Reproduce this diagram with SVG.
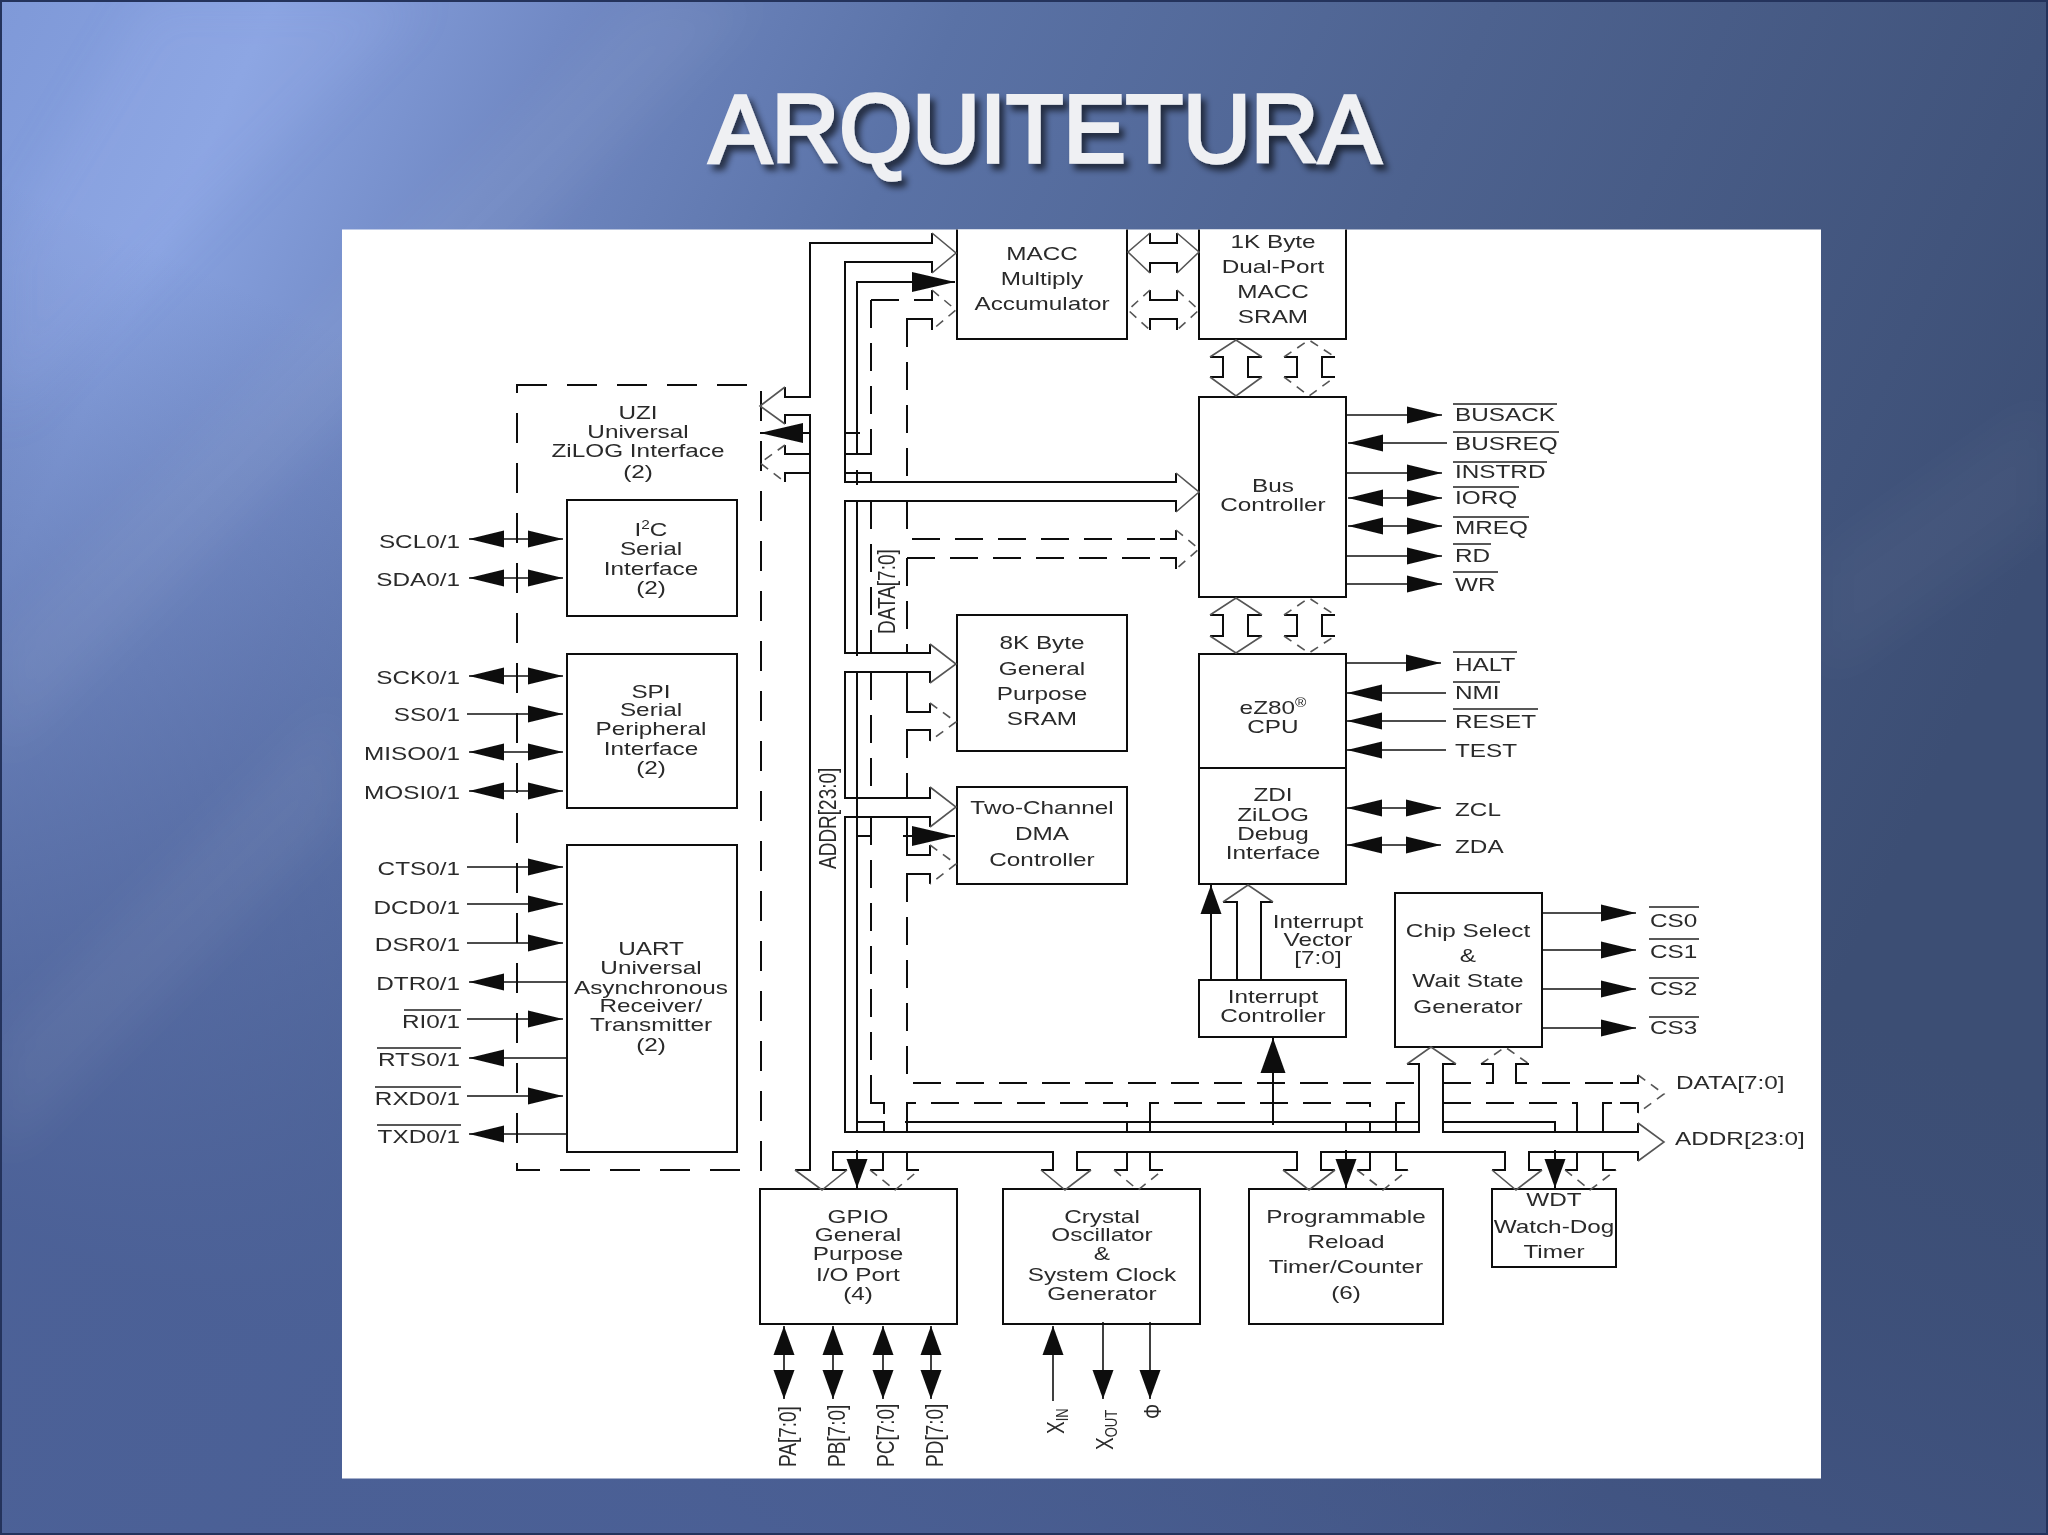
<svg xmlns="http://www.w3.org/2000/svg" width="2048" height="1535" viewBox="0 0 2048 1535">
<style>
.s{fill:none;stroke:#111;stroke-width:2}
.d{fill:none;stroke:#111;stroke-width:2;stroke-dasharray:28 15}
.hs{fill:none;stroke:#555;stroke-width:1.6}
.hd{fill:none;stroke:#555;stroke-width:1.6;stroke-dasharray:9 7}
.box{fill:#fff;stroke:#111;stroke-width:2}
.sig{fill:none;stroke:#111;stroke-width:1.6}
.bar{fill:none;stroke:#222;stroke-width:1.6}
text{font-family:"Liberation Sans",Arial,sans-serif;font-size:19px;fill:#2a2a2a}
.c,.l,.r{transform-box:fill-box;transform:translateY(-1px) scaleX(1.28)}
.c{text-anchor:middle;transform-origin:50% 50%}
.l{text-anchor:start;transform-origin:0 50%}
.r{text-anchor:end;transform-origin:100% 50%}
.title{font-size:97px;fill:#eff0f3;stroke:#eff0f3;stroke-width:3.5}
</style>
<defs>
<linearGradient id="bg" x1="0" y1="0" x2="1" y2="0.35">
<stop offset="0" stop-color="#7f99d8"/><stop offset="0.12" stop-color="#88a2e0"/><stop offset="0.25" stop-color="#7189c4"/><stop offset="0.42" stop-color="#5a72a6"/><stop offset="0.65" stop-color="#4d628f"/><stop offset="1" stop-color="#3c4e74"/>
</linearGradient>
<linearGradient id="low" x1="0.6" y1="0" x2="0" y2="1">
<stop offset="0.35" stop-color="#3f5285" stop-opacity="0"/><stop offset="0.85" stop-color="#4a5f95" stop-opacity="0.95"/>
</linearGradient>
<filter id="soft" x="-2%" y="-2%" width="104%" height="104%"><feGaussianBlur stdDeviation="0.55"/></filter>
<filter id="band" x="-20%" y="-20%" width="140%" height="140%"><feGaussianBlur stdDeviation="22"/></filter>
<filter id="ts" x="-5%" y="-20%" width="110%" height="150%"><feGaussianBlur in="SourceAlpha" stdDeviation="3"/><feOffset dx="5" dy="6"/><feComponentTransfer><feFuncA type="linear" slope="0.6"/></feComponentTransfer><feMerge><feMergeNode/><feMergeNode in="SourceGraphic"/></feMerge></filter>
<marker id="a" markerUnits="userSpaceOnUse" markerWidth="36" markerHeight="20" refX="35" refY="10" orient="auto-start-reverse"><path d="M0 1.5L35 10L0 18.5z" fill="#111"/></marker>
<marker id="b" markerUnits="userSpaceOnUse" markerWidth="30" markerHeight="24" refX="29" refY="12" orient="auto-start-reverse"><path d="M0 1.5L29 12L0 22.5z" fill="#111"/></marker>
<marker id="e" markerUnits="userSpaceOnUse" markerWidth="36" markerHeight="28" refX="35" refY="14" orient="auto"><path d="M0 1.5L35 14L0 26.5z" fill="#111"/></marker>
<marker id="m" markerUnits="userSpaceOnUse" markerWidth="44" markerHeight="22" refX="43" refY="11" orient="auto-start-reverse"><path d="M0 1L43 11L0 21z" fill="#111"/></marker>
</defs>

<g id="background">
<rect width="2048" height="1535" fill="url(#bg)"/>
<rect width="2048" height="1535" fill="url(#low)"/>
<g filter="url(#band)">
<path d="M150 0H420L0 420V250z" fill="#a6bdf0" opacity="0.16"/>
<path d="M0 640L640 0H760L0 760z" fill="#ffffff" opacity="0.05"/>
<path d="M0 1040L340 700V820L0 1160z" fill="#ffffff" opacity="0.05"/>
<path d="M1822 560L2048 400V520L1822 680z" fill="#ffffff" opacity="0.03"/>
</g>
<rect x="1" y="1" width="2046" height="1533" fill="none" stroke="#24335c" stroke-width="2"/>
</g>
<text id="title" class="title" x="709" y="162" textLength="672" lengthAdjust="spacingAndGlyphs" filter="url(#ts)">ARQUITETURA</text>
<rect id="panel" x="342" y="229.500" width="1479" height="1249" fill="#fff"/>

<g id="diagram" filter="url(#soft)">
<g id="nodes">
<g id="uzi"><rect x="517" y="385" width="244" height="785" fill="none" stroke="#111" stroke-width="2" stroke-dasharray="30 20"/>
<text class="c" x="638" y="420">UZI</text><text class="c" x="638" y="439">Universal</text><text class="c" x="638" y="458">ZiLOG Interface</text><text class="c" x="638" y="479">(2)</text></g>
<g id="i2c"><rect class="box" x="567" y="500" width="170" height="116"/>
<text class="c" x="651" y="537">I<tspan font-size="12" dy="-7">2</tspan><tspan dy="7">C</tspan></text><text class="c" x="651" y="556">Serial</text><text class="c" x="651" y="576">Interface</text><text class="c" x="651" y="595">(2)</text></g>
<g id="spi"><rect class="box" x="567" y="654" width="170" height="154"/>
<text class="c" x="651" y="699">SPI</text><text class="c" x="651" y="717">Serial</text><text class="c" x="651" y="736">Peripheral</text><text class="c" x="651" y="756">Interface</text><text class="c" x="651" y="775">(2)</text></g>
<g id="uart"><rect class="box" x="567" y="845" width="170" height="307"/>
<text class="c" x="651" y="956">UART</text><text class="c" x="651" y="975">Universal</text><text class="c" x="651" y="995">Asynchronous</text><text class="c" x="651" y="1013">Receiver/</text><text class="c" x="651" y="1032">Transmitter</text><text class="c" x="651" y="1052">(2)</text></g>
<g id="macc"><path class="box" d="M957 229.500V339H1127V229.500"/>
<text class="c" x="1042" y="261">MACC</text><text class="c" x="1042" y="286">Multiply</text><text class="c" x="1042" y="311">Accumulator</text></g>
<g id="sram1k"><path class="box" d="M1199 229.500V339H1346V229.500"/>
<text class="c" x="1273" y="249">1K Byte</text><text class="c" x="1273" y="274">Dual-Port</text><text class="c" x="1273" y="299">MACC</text><text class="c" x="1273" y="324">SRAM</text></g>
<g id="bus"><rect class="box" x="1199" y="397" width="147" height="200"/>
<text class="c" x="1273" y="493">Bus</text><text class="c" x="1273" y="512">Controller</text></g>
<g id="sram8k"><rect class="box" x="957" y="615" width="170" height="136"/>
<text class="c" x="1042" y="650">8K Byte</text><text class="c" x="1042" y="676">General</text><text class="c" x="1042" y="701">Purpose</text><text class="c" x="1042" y="726">SRAM</text></g>
<g id="dma"><rect class="box" x="957" y="787" width="170" height="97"/>
<text class="c" x="1042" y="815">Two-Channel</text><text class="c" x="1042" y="841">DMA</text><text class="c" x="1042" y="867">Controller</text></g>
<g id="cpu"><rect class="box" x="1199" y="654" width="147" height="114"/>
<text class="c" x="1273" y="715">eZ80<tspan font-size="12" dy="-7">®</tspan></text><text class="c" x="1273" y="734">CPU</text></g>
<g id="zdi"><rect class="box" x="1199" y="768" width="147" height="116"/>
<text class="c" x="1273" y="802">ZDI</text><text class="c" x="1273" y="822">ZiLOG</text><text class="c" x="1273" y="841">Debug</text><text class="c" x="1273" y="860">Interface</text></g>
<g id="intc"><rect class="box" x="1199" y="980" width="147" height="57"/>
<text class="c" x="1273" y="1004">Interrupt</text><text class="c" x="1273" y="1023">Controller</text></g>
<g id="chipsel"><rect class="box" x="1395" y="893" width="147" height="154"/>
<text class="c" x="1468" y="938">Chip Select</text><text class="c" x="1468" y="963">&amp;</text><text class="c" x="1468" y="988">Wait State</text><text class="c" x="1468" y="1014">Generator</text></g>
<g id="gpio"><rect class="box" x="760" y="1189" width="197" height="135"/>
<text class="c" x="858" y="1224">GPIO</text><text class="c" x="858" y="1242">General</text><text class="c" x="858" y="1261">Purpose</text><text class="c" x="858" y="1282">I/O Port</text><text class="c" x="858" y="1301">(4)</text></g>
<g id="crystal"><rect class="box" x="1003" y="1189" width="197" height="135"/>
<text class="c" x="1102" y="1224">Crystal</text><text class="c" x="1102" y="1242">Oscillator</text><text class="c" x="1102" y="1261">&amp;</text><text class="c" x="1102" y="1282">System Clock</text><text class="c" x="1102" y="1301">Generator</text></g>
<g id="timer"><rect class="box" x="1249" y="1189" width="194" height="135"/>
<text class="c" x="1346" y="1224">Programmable</text><text class="c" x="1346" y="1249">Reload</text><text class="c" x="1346" y="1274">Timer/Counter</text><text class="c" x="1346" y="1300">(6)</text></g>
<g id="wdt"><rect class="box" x="1492" y="1189" width="124" height="78"/>
<text class="c" x="1554" y="1207">WDT</text><text class="c" x="1554" y="1234">Watch-Dog</text><text class="c" x="1554" y="1259">Timer</text></g>
</g>

<g id="connectors">
<path class="s" d="M785 387V397H810V243H932V233M785 424V415H810V1170H795M932 273V262H845V482H1176V473M1176 512V501H845V653H930V644M930 683V672H845V798H930V787M930 827V817H845V1132H1419V1064H1407M1456 1064H1443V1132H1638V1123M1638 1161V1152H1529V1170H1542M1492 1170H1505V1152H1321V1170H1335M1283 1170H1297V1152H1077V1170H1091M1041 1170H1053V1152H833V1170H847"/>
<path class="hs" d="M932 233L956 253L932 273M785 387L760 406L785 424M1176 473L1199 492L1176 512M930 644L956 664L930 683M930 787L956 807L930 827M1638 1123L1664 1142L1638 1161M795 1170L822 1190L847 1170M1041 1170L1065 1190L1091 1170M1283 1170L1309 1190L1335 1170M1492 1170L1516 1190L1542 1170M1407 1064L1431 1047L1456 1064"/>
<path class="s" d="M857 454V282H912M857 470V485M857 501V656M857 672V1132M845 433H860M845 454H871V444M845 473H871V482M857 836H871M857 1122H884V1132M871 1092V1103H884V1114M905 1122H1419M1443 1122H1555V1132M907 1122V1132M1127 1122V1132M1150 1122V1132M1346 1122V1132M1370 1122V1132M1396 1122V1132M1419 1122V1132M1577 1122V1132M1603 1122V1132"/>
<path class="s" d="M857 282H955" marker-end="url(#m)"/>
<path class="s" d="M810 433H760" marker-end="url(#m)"/>
<path class="s" d="M903 836H955" marker-end="url(#m)"/>
<path class="s" d="M857 1150V1188" marker-end="url(#b)"/>
<path class="s" d="M1346 1150V1188" marker-end="url(#b)"/>
<path class="s" d="M1555 1150V1188" marker-end="url(#b)"/>
<path class="s" d="M1273 1125V1038" marker-end="url(#e)"/>
<path class="s" d="M883 1152V1170H870M907 1152V1170H919M1127 1152V1170H1114M1150 1152V1170H1163M1370 1152V1170H1357M1396 1152V1170H1408M1577 1152V1170H1565M1603 1152V1170H1616"/>
<path class="hd" d="M870 1170L895 1190L919 1170M1114 1170L1138 1190L1163 1170M1357 1170L1383 1190L1408 1170M1565 1170L1590 1190L1616 1170M1481 1064L1505 1047L1529 1064"/>
<path class="d" d="M871 300H932M871 300V444M871 501V653M871 672V798M871 817V1092M907 319V482M907 501V539H1176M907 558H1176M907 558V653M907 672V712M907 730V798M907 817V855M907 874V1083H1419M1443 1083H1493V1066M1516 1066V1083H1638M907 1122V1103H1127V1122M1150 1122V1103H1370V1122M1396 1122V1103H1419M1443 1103H1577V1122M1603 1122V1103H1638"/>
<path class="s" d="M932 290V300H915M932 330V319H907V340M1176 530V539H1160M1176 569V558H1160M930 703V712H907V698M930 741V730H907V745M930 845V855H907V840M930 884V874H907V890M785 445V454H810M785 482V473H810M1638 1075V1083H1620M1638 1113V1103H1620M1481 1064H1493V1083M1529 1064H1516V1083"/>
<path class="hd" d="M932 290L956 310L932 330M1176 530L1199 549L1176 569M930 703L956 722L930 741M930 845L956 864L930 884M785 445L760 463L785 482M1638 1075L1664 1094L1638 1113"/>
<path class="s" d="M1150 233V243H1177V233M1150 273V263H1177V273M1150 290V300H1177V290M1150 330V319H1177V330"/>
<path class="hs" d="M1150 233L1128 252L1150 273M1177 233L1199 252L1177 273"/>
<path class="hd" d="M1150 290L1128 310L1150 330M1177 290L1199 310L1177 330"/>
<path class="s" d="M1210 357H1223V377H1210M1262 357H1248V377H1262M1284 357H1297V377H1284M1335 357H1322V377H1335M1210 615H1223V636H1210M1262 615H1248V636H1262M1284 615H1297V636H1284M1335 615H1322V636H1335"/>
<path class="hs" d="M1210 357L1236 340L1262 357M1210 377L1236 396L1262 377M1210 615L1236 598L1262 615M1210 636L1236 653L1262 636"/>
<path class="hd" d="M1284 357L1309 340L1335 357M1284 377L1309 396L1335 377M1284 615L1309 598L1335 615M1284 636L1309 653L1335 636"/>
<path class="s" d="M1223 902H1237V980M1273 902H1261V980"/>
<path class="hs" d="M1223 902L1248 885L1273 902"/>
<path class="s" d="M1211 980V885" marker-end="url(#b)"/>
<g class="sig">
<path d="M469 539H563" marker-start="url(#a)" marker-end="url(#a)"/>
<path d="M469 578H563" marker-start="url(#a)" marker-end="url(#a)"/>
<path d="M469 676H563" marker-start="url(#a)" marker-end="url(#a)"/>
<path d="M467 714H563" marker-end="url(#a)"/>
<path d="M469 752H563" marker-start="url(#a)" marker-end="url(#a)"/>
<path d="M469 791H563" marker-start="url(#a)" marker-end="url(#a)"/>
<path d="M467 867H563" marker-end="url(#a)"/>
<path d="M467 904H563" marker-end="url(#a)"/>
<path d="M467 943H563" marker-end="url(#a)"/>
<path d="M567 982H469" marker-end="url(#a)"/>
<path d="M467 1019H563" marker-end="url(#a)"/>
<path d="M567 1058H469" marker-end="url(#a)"/>
<path d="M467 1096H563" marker-end="url(#a)"/>
<path d="M567 1134H469" marker-end="url(#a)"/>
<path d="M1346 415H1442" marker-end="url(#a)"/>
<path d="M1447 443H1348" marker-end="url(#a)"/>
<path d="M1346 473H1442" marker-end="url(#a)"/>
<path d="M1348 498H1442" marker-start="url(#a)" marker-end="url(#a)"/>
<path d="M1348 526H1442" marker-start="url(#a)" marker-end="url(#a)"/>
<path d="M1346 556H1442" marker-end="url(#a)"/>
<path d="M1346 584H1442" marker-end="url(#a)"/>
<path d="M1346 663H1441" marker-end="url(#a)"/>
<path d="M1446 693H1347" marker-end="url(#a)"/>
<path d="M1446 721H1347" marker-end="url(#a)"/>
<path d="M1446 750H1347" marker-end="url(#a)"/>
<path d="M1347 808H1441" marker-start="url(#a)" marker-end="url(#a)"/>
<path d="M1347 845H1441" marker-start="url(#a)" marker-end="url(#a)"/>
<path d="M1542 913H1636" marker-end="url(#a)"/>
<path d="M1542 950H1636" marker-end="url(#a)"/>
<path d="M1542 989H1636" marker-end="url(#a)"/>
<path d="M1542 1028H1636" marker-end="url(#a)"/>
<path d="M784 1326V1399" marker-start="url(#b)" marker-end="url(#b)"/>
<path d="M833 1326V1399" marker-start="url(#b)" marker-end="url(#b)"/>
<path d="M883 1326V1399" marker-start="url(#b)" marker-end="url(#b)"/>
<path d="M931 1326V1399" marker-start="url(#b)" marker-end="url(#b)"/>
<path d="M1053 1401V1326" marker-end="url(#b)"/>
<path d="M1103 1322V1399" marker-end="url(#b)"/>
<path d="M1150 1322V1399" marker-end="url(#b)"/>
</g>
</g>

<g id="overbars">
<path class="bar" d="M404 1010H461M377 1048H461M375 1087H461M377 1125H461M1453 404H1557M1453 432H1559M1453 462H1547M1453 487H1519M1453 517H1529M1453 544H1491M1453 572H1498M1453 652H1517M1453 682H1500M1453 709H1538M1649 907H1699M1649 939H1699M1649 978H1699M1649 1017H1699"/>
</g>

<g id="labels">
<text class="r" x="460" y="549">SCL0/1</text><text class="r" x="460" y="587">SDA0/1</text>
<text class="r" x="460" y="685">SCK0/1</text><text class="r" x="460" y="722">SS0/1</text><text class="r" x="460" y="761">MISO0/1</text><text class="r" x="460" y="800">MOSI0/1</text>
<text class="r" x="460" y="876">CTS0/1</text><text class="r" x="460" y="915">DCD0/1</text><text class="r" x="460" y="952">DSR0/1</text><text class="r" x="460" y="991">DTR0/1</text><text class="r" x="460" y="1029">RI0/1</text><text class="r" x="460" y="1067">RTS0/1</text><text class="r" x="460" y="1106">RXD0/1</text><text class="r" x="460" y="1144">TXD0/1</text>
<text class="l" x="1455" y="422">BUSACK</text><text class="l" x="1455" y="451">BUSREQ</text><text class="l" x="1455" y="479">INSTRD</text><text class="l" x="1455" y="505">IORQ</text><text class="l" x="1455" y="535">MREQ</text><text class="l" x="1455" y="563">RD</text><text class="l" x="1455" y="592">WR</text>
<text class="l" x="1455" y="672">HALT</text><text class="l" x="1455" y="700">NMI</text><text class="l" x="1455" y="729">RESET</text><text class="l" x="1455" y="758">TEST</text><text class="l" x="1455" y="817">ZCL</text><text class="l" x="1455" y="854">ZDA</text>
<text class="l" x="1650" y="928">CS0</text><text class="l" x="1650" y="959">CS1</text><text class="l" x="1650" y="996">CS2</text><text class="l" x="1650" y="1035">CS3</text>
<text class="l" x="1676" y="1090">DATA[7:0]</text><text class="l" x="1675" y="1146">ADDR[23:0]</text>
<text class="c" x="1318" y="929">Interrupt</text><text class="c" x="1318" y="947">Vector</text><text class="c" x="1318" y="965">[7:0]</text>
<text transform="translate(895 634) scale(1.28 1) rotate(-90)">DATA[7:0]</text>
<text transform="translate(836 869) scale(1.28 1) rotate(-90)">ADDR[23:0]</text>
<text transform="translate(796 1467) scale(1.28 1) rotate(-90)">PA[7:0]</text>
<text transform="translate(845 1467) scale(1.28 1) rotate(-90)">PB[7:0]</text>
<text transform="translate(894 1467) scale(1.28 1) rotate(-90)">PC[7:0]</text>
<text transform="translate(943 1467) scale(1.28 1) rotate(-90)">PD[7:0]</text>
<text transform="translate(1064 1434) scale(1.28 1) rotate(-90)">X<tspan font-size="13" dy="3">IN</tspan></text>
<text transform="translate(1113 1450) scale(1.28 1) rotate(-90)">X<tspan font-size="13" dy="3">OUT</tspan></text>
<text transform="translate(1161 1419) scale(1.28 1) rotate(-90)">Φ</text>
</g>
</g>
</svg>
